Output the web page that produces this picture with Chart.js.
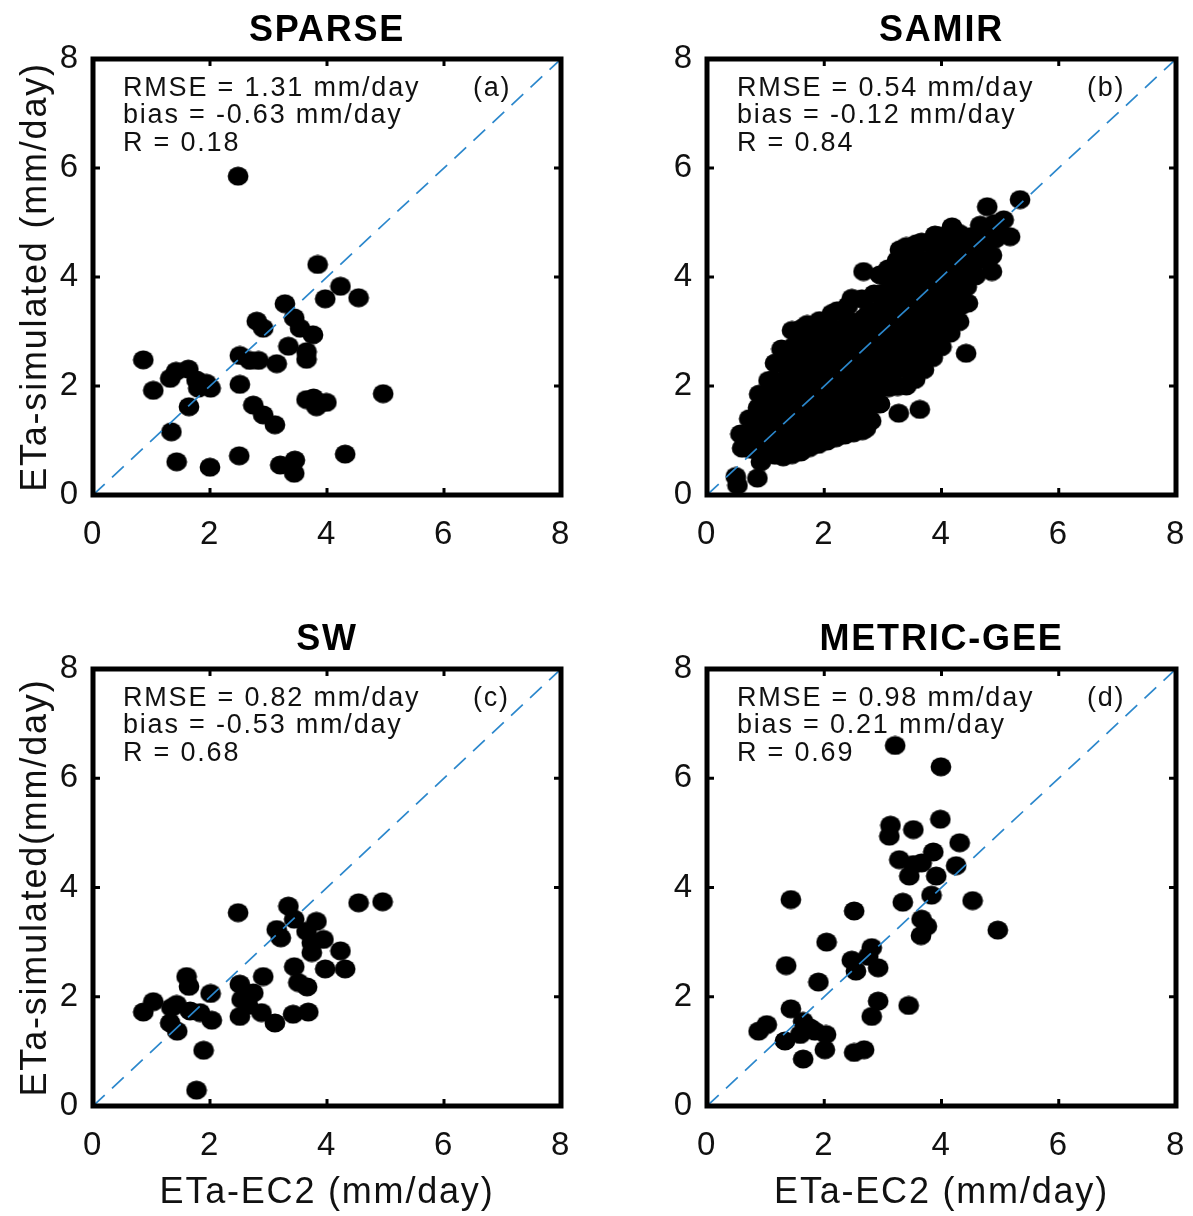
<!DOCTYPE html>
<html>
<head>
<meta charset="utf-8">
<script src="https://cdn.jsdelivr.net/npm/chart.js@4.4.1/dist/chart.umd.min.js"></script>
<style>
html,body{margin:0;padding:0;background:#fff;}
#wrap{position:relative;width:1193px;height:1216px;overflow:hidden;background:#fff;}
canvas{position:absolute;}
</style>
</head>
<body>
<div id="wrap">
<canvas id="cA" width="597" height="600" style="left:0px;top:0px"></canvas>
<canvas id="cB" width="596" height="600" style="left:597px;top:0px"></canvas>
<canvas id="cC" width="597" height="608" style="left:0px;top:608px"></canvas>
<canvas id="cD" width="596" height="608" style="left:597px;top:608px"></canvas>
</div>
<script>
// ---------------- DATA ----------------
const tickValues = [0, 2, 4, 6, 8];
const panelTitles = ['SPARSE', 'SAMIR', 'SW', 'METRIC-GEE'];
const panelTags = ['(a)', '(b)', '(c)', '(d)'];
const statsLines = [
  ['RMSE = 1.31 mm/day', 'bias = -0.63 mm/day', 'R = 0.18'],
  ['RMSE = 0.54 mm/day', 'bias = -0.12 mm/day', 'R = 0.84'],
  ['RMSE = 0.82 mm/day', 'bias = -0.53 mm/day', 'R = 0.68'],
  ['RMSE = 0.98 mm/day', 'bias = 0.21 mm/day', 'R = 0.69']
];
const yAxisTitles = ['ETa-simulated (mm/day)', '', 'ETa-simulated(mm/day)', ''];
const xAxisTitles = ['', '', 'ETa-EC2 (mm/day)', 'ETa-EC2 (mm/day)'];
const oneToOneX = [0, 8];
const oneToOneY = [0, 8];

// (a) SPARSE
const sparseX = [2.48,3.84,4.23,3.97,4.54,3.28,2.80,2.91,3.44,3.54,3.76,3.34,3.65,3.65,2.51,2.68,2.83,3.14,0.86,1.03,1.32,1.42,1.63,1.77,1.80,1.94,2.01,1.64,2.51,2.74,2.91,3.11,3.65,3.82,3.99,3.77,4.96,1.34,1.43,2.00,2.50,3.20,3.45,3.44,4.31];
const sparseY = [5.85,4.23,3.83,3.60,3.62,3.51,3.19,3.06,3.25,3.06,2.94,2.73,2.63,2.49,2.56,2.47,2.47,2.41,2.48,1.92,2.14,2.27,2.31,2.11,1.96,2.05,1.96,1.62,2.03,1.65,1.47,1.29,1.75,1.62,1.70,1.78,1.86,1.16,0.61,0.51,0.72,0.55,0.64,0.40,0.75];

// (b) SAMIR
const samirX = [
  0.60,0.57,
  0.74,0.76,0.72,
  0.88,0.86,0.90,0.87,0.89,
  1.02,1.04,1.00,1.03,1.01,1.05,
  1.16,1.14,1.18,1.15,1.17,1.13,1.16,
  1.30,1.32,1.28,1.31,1.29,1.33,1.30,1.27,
  1.45,1.43,1.47,1.44,1.46,1.42,1.45,1.48,1.45,
  1.60,1.62,1.58,1.61,1.59,1.63,1.60,1.57,1.62,
  1.75,1.73,1.77,1.74,1.76,1.72,1.75,1.78,1.71,
  1.90,1.92,1.88,1.91,1.89,1.93,1.90,1.87,1.92,
  2.05,2.03,2.07,2.04,2.06,2.02,2.05,2.08,2.13,
  2.20,2.22,2.18,2.21,2.19,2.23,2.20,2.17,2.22,
  2.35,2.33,2.37,2.34,2.36,2.32,2.35,2.38,2.40,
  2.50,2.52,2.48,2.51,2.49,2.53,2.50,2.47,2.47,
  2.65,2.63,2.67,2.64,2.66,2.62,2.65,2.68,2.64,
  2.80,2.82,2.78,2.81,2.79,2.83,2.80,2.77,2.85,
  2.95,2.93,2.97,2.94,2.96,2.92,2.95,2.98,2.95,
  3.10,3.12,3.08,3.11,3.09,3.13,3.10,3.07,3.09,
  3.25,3.23,3.27,3.24,3.26,3.22,3.25,3.28,3.24,3.29,
  3.40,3.42,3.38,3.41,3.39,3.43,3.40,3.37,3.42,3.40,
  3.55,3.53,3.57,3.54,3.56,3.52,3.55,3.58,3.54,3.57,
  3.70,3.72,3.68,3.71,3.69,3.73,3.70,3.67,3.66,
  3.85,3.83,3.87,3.84,3.86,3.82,3.85,3.88,3.89,
  4.00,4.02,3.98,4.01,3.99,4.03,4.00,3.97,
  4.15,4.13,4.17,4.14,4.16,4.12,4.15,4.18,
  4.30,4.32,4.28,4.31,4.29,4.33,4.30,
  4.45,4.43,4.47,4.44,4.49,
  4.58,4.62,4.60,4.66,
  4.75,4.73,4.77,4.78,
  4.86,4.92,4.90,
  5.06,5.00,5.17,
  0.49,0.52,0.86,0.92,2.67,3.27,3.63,4.42,2.71,5.34,4.86,4.18,4.83
];
const samirY = [
  0.86,1.12,
  0.84,1.10,1.40,
  0.80,1.07,1.34,1.60,1.85,
  0.77,1.04,1.31,1.58,1.85,2.10,
  0.73,1.00,1.28,1.56,1.84,2.12,2.42,
  0.70,0.98,1.27,1.55,1.83,2.11,2.40,2.68,
  0.74,1.02,1.30,1.59,1.87,2.16,2.44,2.73,3.02,
  0.79,1.07,1.35,1.63,1.92,2.20,2.49,2.77,3.06,
  0.87,1.15,1.43,1.71,2.00,2.28,2.57,2.85,3.13,
  0.93,1.21,1.49,1.78,2.06,2.35,2.63,2.92,3.20,
  0.99,1.27,1.56,1.84,2.13,2.41,2.70,2.98,3.33,
  1.05,1.33,1.62,1.90,2.19,2.47,2.76,3.05,3.38,
  1.10,1.38,1.67,1.96,2.25,2.54,2.83,3.12,3.47,
  1.14,1.43,1.72,2.01,2.30,2.60,2.89,3.18,3.61,
  1.18,1.46,1.75,2.05,2.35,2.65,2.95,3.25,3.60,
  1.36,1.64,1.93,2.22,2.51,2.80,3.09,3.38,3.69,
  1.67,1.95,2.24,2.53,2.82,3.11,3.40,3.70,4.04,
  1.97,2.25,2.54,2.83,3.12,3.41,3.70,3.99,4.15,
  1.99,2.28,2.57,2.86,3.15,3.44,3.73,4.02,4.30,4.50,
  2.00,2.30,2.60,2.90,3.20,3.50,3.80,4.10,4.40,4.56,
  2.12,2.41,2.70,2.99,3.28,3.57,3.86,4.15,4.42,4.61,
  2.30,2.59,2.88,3.17,3.46,3.75,4.04,4.33,4.64,
  2.52,2.81,3.10,3.39,3.68,3.97,4.26,4.54,4.77,
  2.72,3.00,3.29,3.58,3.87,4.16,4.45,4.75,
  2.97,3.25,3.54,3.83,4.12,4.41,4.70,4.90,
  3.18,3.46,3.75,4.04,4.33,4.62,4.80,
  3.52,3.82,4.11,4.40,4.74,
  4.02,4.30,4.60,4.95,
  4.32,4.60,4.88,5.29,
  4.40,4.70,4.98,
  5.05,4.82,4.74,
  0.34,0.18,0.31,0.61,4.10,1.50,1.57,2.60,1.22,5.42,4.10,4.92,4.37
];

// (c) SW
const swX = [2.48,3.34,4.54,4.95,3.14,3.21,3.44,3.82,3.65,3.94,3.74,3.74,4.23,3.97,4.31,3.44,3.51,3.66,3.42,3.68,2.91,2.51,2.54,2.74,2.51,2.88,3.11,2.65,1.60,1.64,2.01,2.03,1.03,0.86,1.34,1.43,1.32,1.44,1.66,1.83,1.89,1.77];
const swY = [3.54,3.66,3.72,3.74,3.23,3.08,3.42,3.38,3.20,3.05,2.99,2.81,2.84,2.51,2.51,2.55,2.26,2.18,1.68,1.72,2.37,2.23,1.95,2.07,1.64,1.71,1.52,1.84,2.37,2.19,2.06,1.57,1.91,1.72,1.80,1.86,1.52,1.37,1.74,1.71,1.02,0.29];

// (d) METRIC-GEE
const metricX = [3.21,3.99,3.98,3.13,3.11,3.52,4.31,3.86,3.28,3.52,3.66,3.45,3.91,4.25,3.83,3.34,4.53,3.66,3.75,3.65,4.96,1.43,2.51,2.04,2.81,2.47,2.54,2.92,2.75,1.35,1.90,2.92,2.81,3.44,1.43,1.02,0.88,1.33,1.64,1.76,1.59,2.03,2.01,1.64,2.51,2.68,1.84];
const metricY = [6.60,6.21,5.25,5.14,4.94,5.06,4.82,4.65,4.51,4.42,4.45,4.21,4.21,4.40,3.86,3.73,3.76,3.42,3.29,3.12,3.22,3.78,3.57,3.00,2.90,2.67,2.47,2.53,2.74,2.57,2.27,1.92,1.64,1.84,1.78,1.49,1.37,1.19,1.55,1.43,1.31,1.31,1.03,0.86,0.98,1.03,1.37];

const seriesX = [sparseX, samirX, swX, metricX];
const seriesY = [sparseY, samirY, swY, metricY];

// ---------------- LAYOUT / STYLE ----------------
const FONT = '"Liberation Sans", Arial, Helvetica, sans-serif';
const panels = [
  {canvas: 'cA', w: 597, h: 600, area: {l: 93, r: 561, t: 59, b: 495}, titleTop: 9},
  {canvas: 'cB', w: 596, h: 600, area: {l: 110, r: 579, t: 59, b: 495}, titleTop: 9},
  {canvas: 'cC', w: 597, h: 608, area: {l: 93, r: 561, t: 61, b: 498}, titleTop: 10},
  {canvas: 'cD', w: 596, h: 608, area: {l: 110, r: 579, t: 61, b: 498}, titleTop: 10}
];

// elliptical marker (source figure is slightly stretched horizontally)
const marker = document.createElement('canvas');
marker.width = 22; marker.height = 20;
(function () {
  const c = marker.getContext('2d');
  c.fillStyle = '#000';
  c.beginPath();
  c.ellipse(11, 10, 10.4, 9.6, 0, 0, Math.PI * 2);
  c.fill();
})();

const spacingPlugin = {
  id: 'spacing',
  beforeDraw(chart) { chart.ctx.letterSpacing = '1.8px'; }
};

function framePlugin() {
  return {
    id: 'frame',
    afterDraw(chart) {
      const {ctx, chartArea: a, scales} = chart;
      ctx.save();
      ctx.strokeStyle = '#000';
      ctx.lineWidth = 3;
      const tl = 7;
      tickValues.forEach(v => {
        if (v === tickValues[0] || v === tickValues[tickValues.length - 1]) return;
        const px = scales.x.getPixelForValue(v);
        const py = scales.y.getPixelForValue(v);
        ctx.beginPath();
        ctx.moveTo(px, a.bottom); ctx.lineTo(px, a.bottom - tl);
        ctx.moveTo(px, a.top); ctx.lineTo(px, a.top + tl);
        ctx.moveTo(a.left, py); ctx.lineTo(a.left + tl, py);
        ctx.moveTo(a.right, py); ctx.lineTo(a.right - tl, py);
        ctx.stroke();
      });
      ctx.lineWidth = 5;
      ctx.strokeRect(a.left, a.top, a.right - a.left, a.bottom - a.top);
      ctx.restore();
    }
  };
}

function statsPlugin(i) {
  return {
    id: 'stats',
    afterDraw(chart) {
      const {ctx, chartArea: a} = chart;
      ctx.save();
      ctx.letterSpacing = '1.8px';
      ctx.fillStyle = '#111';
      ctx.font = '27px ' + FONT;
      ctx.textAlign = 'left';
      ctx.textBaseline = 'alphabetic';
      statsLines[i].forEach((s, k) => {
        ctx.fillText(s, a.left + 30, a.top + 36.5 + k * 27.5);
      });
      ctx.fillText(panelTags[i], a.left + 380, a.top + 36.5);
      ctx.restore();
    }
  };
}

panels.forEach((p, i) => {
  const pts = seriesX[i].map((x, k) => ({x: x, y: seriesY[i][k]}));
  const diag = oneToOneX.map((x, k) => ({x: x, y: oneToOneY[k]}));
  const titleFont = {family: FONT, size: 36, weight: 'normal', lineHeight: 1.2};
  new Chart(document.getElementById(p.canvas), {
    type: 'scatter',
    data: {
      datasets: [
        {
          type: 'line', data: diag, order: 0,
          borderColor: '#2b87cc', borderWidth: 1.7, borderDash: [16, 10],
          pointRadius: 0, fill: false, showLine: true
        },
        {
          type: 'scatter', data: pts, order: 1,
          pointStyle: marker, pointRadius: 10, pointHoverRadius: 10,
          backgroundColor: '#000', borderColor: '#000'
        }
      ]
    },
    options: {
      responsive: false,
      animation: false,
      events: [],
      layout: {padding: {left: 0, top: 0, right: p.w - p.area.r, bottom: 0}},
      plugins: {
        legend: {display: false},
        tooltip: {enabled: false},
        title: {
          display: true,
          text: panelTitles[i],
          fullSize: false,
          color: '#000',
          font: {family: FONT, size: 36, weight: 'bold', lineHeight: 1.2},
          padding: {top: p.titleTop, bottom: p.area.t - p.titleTop - 43.2}
        }
      },
      scales: {
        x: {
          type: 'linear', position: 'bottom', min: 0, max: 8,
          afterBuildTicks: s => { s.ticks = tickValues.map(v => ({value: v})); },
          afterFit: s => { s.height = p.h - p.area.b; s.paddingLeft = 0; s.paddingRight = 0; },
          grid: {display: false},
          border: {display: false},
          ticks: {
            autoSkip: false, maxRotation: 0, color: '#111', padding: 12,
            font: {family: FONT, size: 33, lineHeight: 1.2}
          },
          title: {
            display: xAxisTitles[i] !== '', text: xAxisTitles[i], color: '#111',
            font: titleFont, padding: {top: 0, bottom: 1}
          }
        },
        y: {
          type: 'linear', position: 'left', min: 0, max: 8,
          afterBuildTicks: s => { s.ticks = tickValues.map(v => ({value: v})); },
          afterFit: s => { s.width = p.area.l; s.paddingTop = 0; s.paddingBottom = 0; },
          grid: {display: false},
          border: {display: false},
          ticks: {
            autoSkip: false, color: '#111', padding: 5,
            font: {family: FONT, size: 33, lineHeight: 1.2}
          },
          title: {
            display: yAxisTitles[i] !== '', text: yAxisTitles[i], color: '#111',
            font: titleFont, padding: {top: 14, bottom: 0}
          }
        }
      }
    },
    plugins: [spacingPlugin, framePlugin(), statsPlugin(i)]
  });
});
</script>
</body>
</html>
